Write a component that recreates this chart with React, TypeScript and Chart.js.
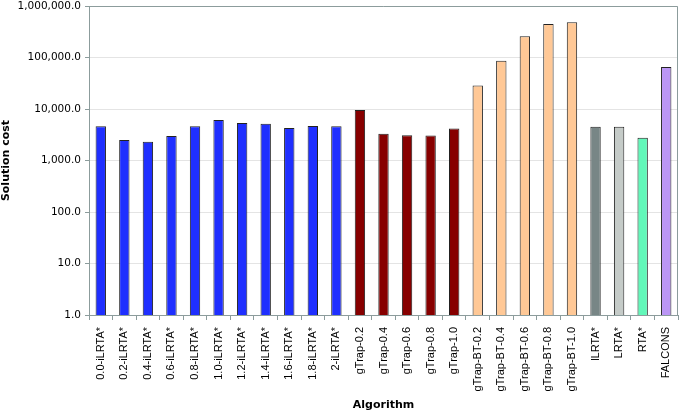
import React, { useEffect, useRef } from "react";
import { Chart, registerables } from "chart.js";

Chart.register(...registerables);

const categories = [
  "0.0-iLRTA*", "0.2-iLRTA*", "0.4-iLRTA*", "0.6-iLRTA*", "0.8-iLRTA*",
  "1.0-iLRTA*", "1.2-iLRTA*", "1.4-iLRTA*", "1.6-iLRTA*", "1.8-iLRTA*",
  "2-iLRTA*",
  "gTrap-0.2", "gTrap-0.4", "gTrap-0.6", "gTrap-0.8", "gTrap-1.0",
  "gTrap-BT-0.2", "gTrap-BT-0.4", "gTrap-BT-0.6", "gTrap-BT-0.8", "gTrap-BT-1.0",
  "lLRTA*", "LRTA*", "RTA*", "FALCONS",
];

const solutionCost = [
  4600, 2500, 2300, 3000, 4600, 6100, 5350, 5200, 4300, 4700, 4600,
  9600, 3300, 3100, 3050, 4200,
  28500, 86000, 258000, 447000, 482000,
  4500, 4500, 2750, 65500,
];

const barColors = [
  "#1f2fff", "#1f2fff", "#1f2fff", "#1f2fff", "#1f2fff", "#1f2fff",
  "#1f2fff", "#1f2fff", "#1f2fff", "#1f2fff", "#1f2fff",
  "#870000", "#870000", "#870000", "#870000", "#870000",
  "#ffc896", "#ffc896", "#ffc896", "#ffc896", "#ffc896",
  "#788686", "#c5cbc8", "#62f7b9", "#bb96f5",
];

const yTicks = [1, 10, 100, 1000, 10000, 100000, 1000000];

const frame = {
  id: "frame",
  afterDraw(chart: any) {
    const { ctx, chartArea } = chart;
    ctx.save();
    ctx.strokeStyle = "#8c9c9c";
    ctx.lineWidth = 1;
    ctx.beginPath();
    ctx.moveTo(chartArea.left, chartArea.top + 0.5);
    ctx.lineTo(chartArea.right - 0.5, chartArea.top + 0.5);
    ctx.lineTo(chartArea.right - 0.5, chartArea.bottom);
    ctx.stroke();
    ctx.restore();
  },
};

const App: React.FC = () => {
  const canvasRef = useRef<HTMLCanvasElement | null>(null);
  const chartRef = useRef<Chart | null>(null);

  useEffect(() => {
    document.body.style.margin = "0";
    if (chartRef.current) chartRef.current.destroy();
    if (!canvasRef.current) return;

    chartRef.current = new Chart(canvasRef.current, {
      type: "bar",
      data: {
        labels: categories,
        datasets: [
          {
            data: solutionCost,
            backgroundColor: barColors,
            borderColor: "#222222",
            borderWidth: 1,
            borderSkipped: "bottom",
            barPercentage: 0.44,
            categoryPercentage: 1,
          },
        ],
      },
      options: {
        animation: false,
        responsive: false,
        layout: { padding: { top: 6, right: 3, left: 0, bottom: 0 } },
        plugins: { legend: { display: false }, tooltip: { enabled: false } },
        scales: {
          x: {
            grid: {
              offset: true,
              drawOnChartArea: false,
              drawTicks: true,
              tickLength: 5,
              color: "#8c9c9c",
            },
            border: { color: "#8c9c9c" },
            ticks: {
              minRotation: 90,
              maxRotation: 90,
              autoSkip: false,
              color: "#000",
              padding: 7,
              font: { family: "Liberation Sans", size: 11 },
            },
            title: {
              display: true,
              text: "Algorithm",
              color: "#000",
              padding: { top: 0, bottom: 0 },
              font: { family: "DejaVu Sans", size: 11, weight: "bold" },
            },
            afterFit(scale: any) {
              scale.height = 97;
              scale.paddingRight = 0;
            },
          },
          y: {
            type: "logarithmic",
            min: 1,
            max: 1000000,
            afterBuildTicks(scale: any) {
              scale.ticks = yTicks.map((v) => ({ value: v }));
            },
            grid: {
              color: "#e4e4e4",
              tickLength: 4,
              tickColor: "#8c9c9c",
            },
            border: { color: "#8c9c9c" },
            ticks: {
              color: "#000",
              padding: 4,
              font: { family: "DejaVu Sans", size: 10.5 },
              callback: (v: any) =>
                Number(v).toLocaleString("en-US", {
                  minimumFractionDigits: 1,
                  maximumFractionDigits: 1,
                }),
            },
            title: {
              display: true,
              text: "Solution cost",
              color: "#000",
              padding: { top: 0, bottom: 4 },
              font: { family: "DejaVu Sans", size: 11, weight: "bold" },
            },
            afterFit(scale: any) {
              scale.width = 89;
              scale.paddingTop = 0;
              scale.paddingBottom = 0;
            },
          },
        },
      },
      plugins: [frame],
    });

    return () => {
      if (chartRef.current) {
        chartRef.current.destroy();
        chartRef.current = null;
      }
    };
  }, []);

  return <canvas ref={canvasRef} width={681} height={412}></canvas>;
};

export default App;
